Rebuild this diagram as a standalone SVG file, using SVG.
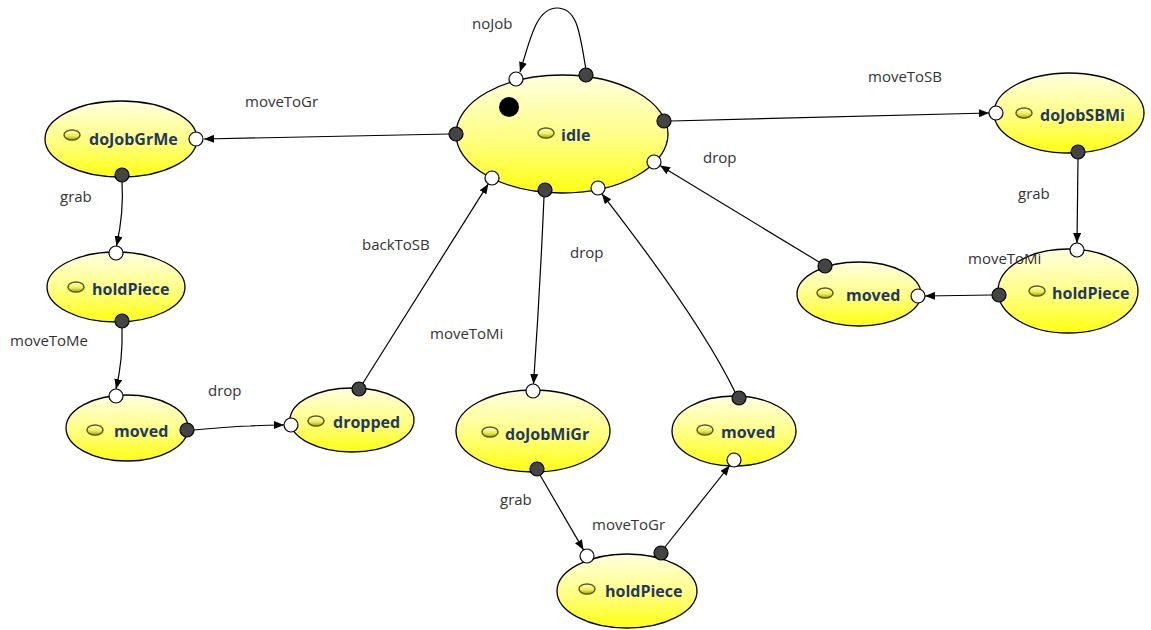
<svg xmlns="http://www.w3.org/2000/svg" width="1151" height="630" viewBox="0 0 1151 630">
<defs>
<linearGradient id="yg" x1="0" y1="0" x2="0" y2="1">
<stop offset="0" stop-color="#ffffe0"/>
<stop offset="0.55" stop-color="#ffff80"/>
<stop offset="1" stop-color="#ffff10"/>
</linearGradient>
<linearGradient id="ig" x1="0" y1="0" x2="0" y2="1">
<stop offset="0" stop-color="#fffff0"/>
<stop offset="0.6" stop-color="#eeee40"/>
<stop offset="1" stop-color="#a0a000"/>
</linearGradient>
<marker id="ah" viewBox="0 0 10 8" refX="10" refY="4" markerWidth="10" markerHeight="8" markerUnits="userSpaceOnUse" orient="auto">
<path d="M0,0 L10,4 L0,8 Z" fill="#000"/>
</marker>
</defs>
<style>
.st{fill:url(#yg);stroke:#000;stroke-width:1.3}
.ic{fill:url(#ig);stroke:#5a5a10;stroke-width:1.5}
.nm{font-family:"Open Sans","Noto Sans",sans-serif;font-weight:bold;font-size:16px;fill:#1f3864}
.lb{font-family:"Open Sans","Noto Sans",sans-serif;font-size:15px;fill:#333}
.e{fill:none;stroke:#000;stroke-width:1.2;marker-end:url(#ah)}
.pi{fill:#fff;stroke:#000;stroke-width:1.2}
.po{fill:#444;stroke:#000;stroke-width:1.2}
</style>
<rect width="1151" height="630" fill="#fff"/>
<g id="connectors">
<path class="e" d="M586,70 C580,35 578,8 557,8 C536,8 530,40 520,72"/>
<path class="e" d="M449,134 L204,139"/>
<path class="e" d="M671,121 L989,113"/>
<path class="e" d="M122,182 Q124,212 116.5,246"/>
<path class="e" d="M122,328 Q123,360 116,389"/>
<path class="e" d="M194,430 Q240,426 250,426 Q265,425 284,425"/>
<path class="e" d="M363,383 L488.3,183.9"/>
<path class="e" d="M544,197 Q540,290 533.5,384"/>
<path class="e" d="M540,475 L583.5,549.9"/>
<path class="e" d="M665,547 L729.7,465.5"/>
<path class="e" d="M735,392 Q700,320 601.9,193.8"/>
<path class="e" d="M819,262 L660,165.6"/>
<path class="e" d="M1078,159 L1077,243"/>
<path class="e" d="M992,295 L925,296"/>
</g>
<g id="idle">
<ellipse class="st" cx="562" cy="134" rx="106" ry="59"/>
<circle cx="509" cy="107" r="10" fill="#000"/>
<ellipse class="ic" cx="546" cy="133" rx="8" ry="5"/>
<text class="nm" x="561" y="141">idle</text>
<circle class="pi" cx="516" cy="79" r="7"/>
<circle class="po" cx="586" cy="75" r="7"/>
<circle class="po" cx="664" cy="121" r="7"/>
<circle class="pi" cx="654" cy="162" r="7"/>
<circle class="pi" cx="492" cy="178" r="7"/>
<circle class="po" cx="545" cy="190" r="7"/>
<circle class="pi" cx="598" cy="188" r="7"/>
<circle class="po" cx="456" cy="134" r="7"/>
</g>
<g id="doJobGrMe">
<ellipse class="st" cx="121" cy="139" rx="76" ry="38"/>
<ellipse class="ic" cx="72" cy="135" rx="8" ry="5"/>
<text class="nm" x="89" y="145">doJobGrMe</text>
<circle class="pi" cx="196" cy="139" r="7"/>
<circle class="po" cx="122" cy="175" r="7"/>
</g>
<g id="holdPiece1">
<ellipse class="st" cx="116" cy="287" rx="69" ry="35"/>
<ellipse class="ic" cx="76" cy="287" rx="8" ry="5"/>
<text class="nm" x="92" y="295">holdPiece</text>
<circle class="pi" cx="116" cy="253" r="7"/>
<circle class="po" cx="122" cy="321" r="7"/>
</g>
<g id="moved1">
<ellipse class="st" cx="127" cy="428" rx="61" ry="33"/>
<ellipse class="ic" cx="95" cy="430" rx="8" ry="5"/>
<text class="nm" x="114" y="437">moved</text>
<circle class="pi" cx="116" cy="396" r="7"/>
<circle class="po" cx="187" cy="430" r="7"/>
</g>
<g id="dropped">
<ellipse class="st" cx="352" cy="420" rx="62" ry="32"/>
<ellipse class="ic" cx="316" cy="421" rx="8" ry="5"/>
<text class="nm" x="333" y="428">dropped</text>
<circle class="pi" cx="291" cy="425" r="7"/>
<circle class="po" cx="359" cy="389" r="7"/>
</g>
<g id="doJobMiGr">
<ellipse class="st" cx="533" cy="431" rx="77" ry="41"/>
<ellipse class="ic" cx="490" cy="432" rx="8" ry="5"/>
<text class="nm" x="505" y="440">doJobMiGr</text>
<circle class="pi" cx="533" cy="391" r="7"/>
<circle class="po" cx="537" cy="469" r="7"/>
</g>
<g id="moved2">
<ellipse class="st" cx="734" cy="431" rx="62" ry="35"/>
<ellipse class="ic" cx="705" cy="430" rx="8" ry="5"/>
<text class="nm" x="721" y="438">moved</text>
<circle class="po" cx="739" cy="398" r="7"/>
<circle class="pi" cx="734" cy="460" r="7"/>
</g>
<g id="holdPiece2">
<ellipse class="st" cx="627" cy="591" rx="70" ry="37"/>
<ellipse class="ic" cx="587" cy="589" rx="8" ry="5"/>
<text class="nm" x="605" y="597">holdPiece</text>
<circle class="pi" cx="587" cy="556" r="7"/>
<circle class="po" cx="661" cy="553" r="7"/>
</g>
<g id="moved3">
<ellipse class="st" cx="859" cy="294" rx="62" ry="32"/>
<ellipse class="ic" cx="825" cy="293" rx="8" ry="5"/>
<text class="nm" x="846" y="301">moved</text>
<circle class="po" cx="825" cy="266" r="7"/>
<circle class="pi" cx="918" cy="296" r="7"/>
</g>
<g id="holdPiece3">
<ellipse class="st" cx="1068" cy="291" rx="70" ry="42"/>
<ellipse class="ic" cx="1037" cy="291" rx="8" ry="5"/>
<text class="nm" x="1052" y="299">holdPiece</text>
<circle class="pi" cx="1077" cy="250" r="7"/>
<circle class="po" cx="999" cy="295" r="7"/>
</g>
<g id="doJobSBMi">
<ellipse class="st" cx="1069" cy="113" rx="75" ry="40"/>
<ellipse class="ic" cx="1024" cy="113" rx="8" ry="5"/>
<text class="nm" x="1040" y="121">doJobSBMi</text>
<circle class="pi" cx="996" cy="113" r="7"/>
<circle class="po" cx="1078" cy="152" r="7"/>
</g>
<g id="labels">
<text class="lb" x="472" y="29">noJob</text>
<text class="lb" x="245" y="107">moveToGr</text>
<text class="lb" x="868" y="82">moveToSB</text>
<text class="lb" x="703" y="163">drop</text>
<text class="lb" x="60" y="202">grab</text>
<text class="lb" x="362" y="250">backToSB</text>
<text class="lb" x="570" y="258">drop</text>
<text class="lb" x="1018" y="199">grab</text>
<text class="lb" x="968" y="264">moveToMi</text>
<text class="lb" x="10" y="346">moveToMe</text>
<text class="lb" x="430" y="339">moveToMi</text>
<text class="lb" x="208" y="396">drop</text>
<text class="lb" x="500" y="505">grab</text>
<text class="lb" x="592" y="530">moveToGr</text>
</g>
</svg>
